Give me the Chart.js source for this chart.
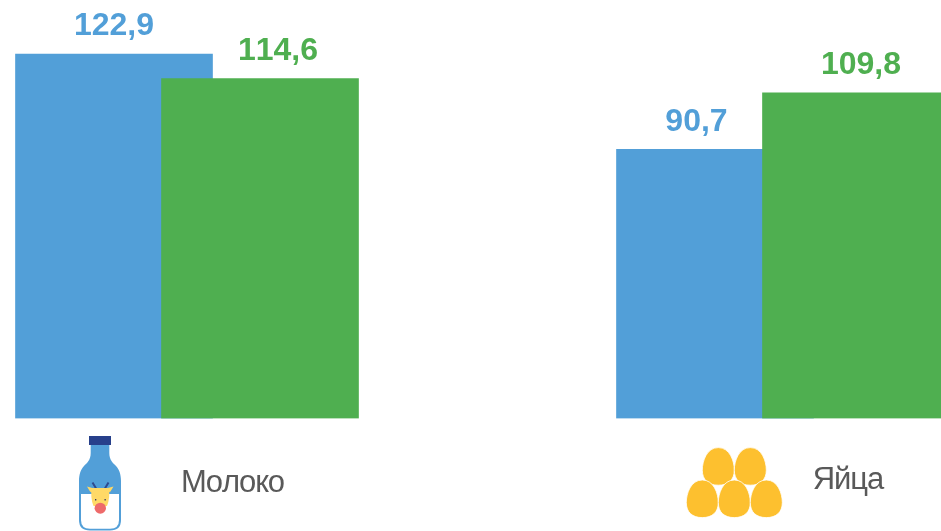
<!DOCTYPE html>
<html lang="ru">
<head>
<meta charset="utf-8">
<title>Молоко и яйца</title>
<style>
html,body{margin:0;padding:0;background:#fff;overflow:hidden}
canvas{display:block}
</style>
<script src="https://cdn.jsdelivr.net/npm/chart.js@4/dist/chart.umd.min.js"></script>
</head>
<body>
<canvas id="c" width="941" height="531"></canvas>
<script>
const categories = ['Молоко', 'Яйца'];
const blueValues = [122.9, 90.7];
const greenValues = [114.6, 109.8];

const BLUE = '#529FD8';
const GREEN = '#4FAF50';
const TEXT = '#595959';
const FONT = '"Liberation Sans", Arial, sans-serif';

const unit = 601;
const greenOffset = 146 / unit;
const labelShift = { blue: [0, -18.5], green: [18, 0] };
const fmt = v => v.toFixed(1).replace('.', ',');

function bottle(ctx) {
  ctx.save();
  // body
  ctx.fillStyle = BLUE;
  ctx.beginPath();
  ctx.moveTo(90.7, 444);
  ctx.lineTo(109.3, 444);
  ctx.lineTo(109.3, 453);
  ctx.bezierCurveTo(109.3, 460, 113, 463, 116, 466);
  ctx.bezierCurveTo(119, 469, 121, 474, 121, 481);
  ctx.lineTo(121, 520);
  ctx.quadraticCurveTo(121, 530.5, 110, 530.5);
  ctx.lineTo(90, 530.5);
  ctx.quadraticCurveTo(79, 530.5, 79, 520);
  ctx.lineTo(79, 481);
  ctx.bezierCurveTo(79, 474, 81, 469, 84, 466);
  ctx.bezierCurveTo(87, 463, 90.7, 460, 90.7, 453);
  ctx.closePath();
  ctx.fill();
  // milk
  ctx.fillStyle = '#fff';
  ctx.beginPath();
  ctx.moveTo(81, 494);
  ctx.lineTo(119, 494);
  ctx.lineTo(119, 520);
  ctx.quadraticCurveTo(119, 528.7, 110, 528.7);
  ctx.lineTo(90, 528.7);
  ctx.quadraticCurveTo(81, 528.7, 81, 520);
  ctx.closePath();
  ctx.fill();
  // cap
  ctx.fillStyle = '#27408B';
  ctx.fillRect(89, 436, 22, 9);
  // horns
  ctx.strokeStyle = '#2F4A8F';
  ctx.lineWidth = 2;
  ctx.beginPath();
  ctx.moveTo(97, 490); ctx.lineTo(92.5, 482.5);
  ctx.moveTo(104, 490); ctx.lineTo(108.5, 482.5);
  ctx.stroke();
  // ears
  ctx.fillStyle = '#FFD966';
  ctx.beginPath();
  ctx.moveTo(94, 488.5); ctx.lineTo(87, 486.5); ctx.lineTo(90, 491.5); ctx.lineTo(94, 494);
  ctx.moveTo(106, 488.5); ctx.lineTo(113.5, 486.5); ctx.lineTo(110.5, 491.5); ctx.lineTo(106, 494);
  ctx.fill();
  // head
  ctx.beginPath();
  ctx.moveTo(92, 488);
  ctx.lineTo(108.5, 488);
  ctx.quadraticCurveTo(110.5, 497, 107, 506);
  ctx.lineTo(93.5, 506);
  ctx.quadraticCurveTo(90, 497, 92, 488);
  ctx.fill();
  // eyes
  ctx.fillStyle = '#3B3B5A';
  ctx.fillRect(95, 499, 1.3, 1.5);
  ctx.fillRect(104.5, 499, 1.3, 1.5);
  // muzzle
  ctx.fillStyle = '#EE6A6A';
  ctx.beginPath();
  ctx.ellipse(100.3, 508.2, 5.7, 5.5, 0, 0, Math.PI * 2);
  ctx.fill();
  ctx.restore();
}

function egg(ctx, cx, top) {
  const h = 37.6, w = 16;
  ctx.beginPath();
  ctx.moveTo(cx, top);
  ctx.bezierCurveTo(cx + w * 0.72, top, cx + w, top + h * 0.36, cx + w, top + h * 0.6);
  ctx.bezierCurveTo(cx + w, top + h * 0.86, cx + w * 0.62, top + h, cx, top + h);
  ctx.bezierCurveTo(cx - w * 0.62, top + h, cx - w, top + h * 0.86, cx - w, top + h * 0.6);
  ctx.bezierCurveTo(cx - w, top + h * 0.36, cx - w * 0.72, top, cx, top);
  ctx.closePath();
  ctx.fill();
  ctx.stroke();
}

function eggs(ctx) {
  ctx.save();
  ctx.fillStyle = '#FDC02F';
  ctx.strokeStyle = '#fff';
  ctx.lineWidth = 0.8;
  [718.3, 750.3].forEach(x => egg(ctx, x, 447.6));
  [702.3, 734.3, 766.3].forEach(x => egg(ctx, x, 480));
  ctx.restore();
}

const annotations = {
  id: 'annotations',
  afterDatasetsDraw(chart) {
    const ctx = chart.ctx;
    ctx.save();
    ctx.textAlign = 'center';
    ctx.textBaseline = 'alphabetic';
    ctx.fontKerning = 'none';
    ctx.font = 'bold 32px ' + FONT;
    [[0, BLUE, blueValues, labelShift.blue], [1, GREEN, greenValues, labelShift.green]].forEach(([d, col, vals, sh]) => {
      const els = chart.getDatasetMeta(d).data;
      ctx.fillStyle = col;
      vals.forEach((v, i) => {
        ctx.fillText(fmt(v), els[i].x + sh[i], els[i].y - 18.5);
      });
    });
    ctx.fillStyle = TEXT;
    ctx.font = '31px ' + FONT;
    ctx.letterSpacing = '-1px';
    ctx.fillText(categories[0], 232.5, 492);
    ctx.fillText(categories[1], 848, 488.5);
    ctx.restore();
    bottle(ctx);
    eggs(ctx);
  }
};

new Chart(document.getElementById('c'), {
  type: 'bar',
  data: {
    datasets: [
      { label: 'blue', order: 2, backgroundColor: BLUE,
        data: blueValues.map((v, i) => ({ x: i, y: v })) },
      { label: 'green', order: 1, backgroundColor: GREEN,
        data: greenValues.map((v, i) => ({ x: i + greenOffset, y: v })) }
    ]
  },
  options: {
    responsive: false,
    animation: false,
    events: [],
    layout: { padding: { left: 0, right: 0, top: 0, bottom: 112.6 } },
    plugins: { legend: { display: false }, tooltip: { enabled: false }, title: { display: false } },
    datasets: { bar: { barThickness: 197, grouped: false, borderWidth: 0 } },
    scales: {
      x: { type: 'linear', display: false, offset: false, min: -114 / unit, max: (941 - 114) / unit },
      y: { display: false, min: 0, max: 141.1 }
    }
  },
  plugins: [annotations]
});
</script>
</body>
</html>
